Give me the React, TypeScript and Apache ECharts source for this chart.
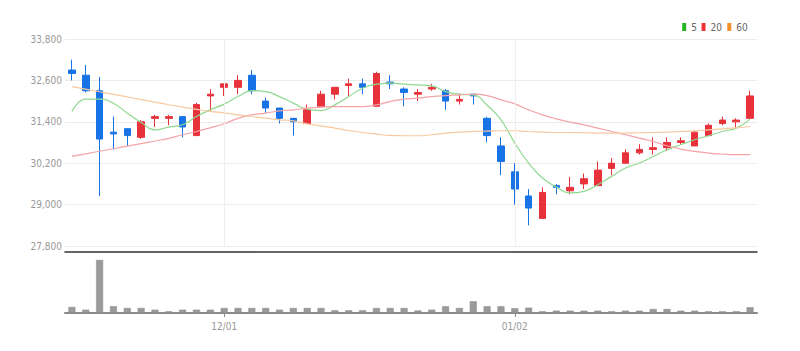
import React, { useEffect, useRef } from "react";
import * as echarts from "echarts";

const dates = [
  "11/16", "11/17", "11/18", "11/21", "11/22", "11/23", "11/24", "11/25", "11/28", "11/29", "11/30",
  "12/01", "12/02", "12/05", "12/06", "12/07", "12/08", "12/09", "12/12", "12/13", "12/14", "12/15",
  "12/16", "12/19", "12/20", "12/21", "12/22", "12/23", "12/26", "12/27", "12/28", "12/29",
  "01/02", "01/03", "01/04", "01/05", "01/06", "01/09", "01/10", "01/11", "01/12", "01/13", "01/16",
  "01/17", "01/18", "01/19", "01/20", "01/25", "01/26", "01/27",
];
const labelDates = ["12/01", "01/02"];

const opens = [
  32900, 32750, 32300, 31100, 31200, 30950, 31500, 31500, 31550, 31000,
  32150, 32400, 32400, 32750, 32000, 31800, 31500, 31350, 31850, 32200,
  32450, 32500, 31850, 32550, 32350, 32200, 32350, 32300, 32000, 32200,
  31500, 30700, 29950, 29250, 28600, 29550, 29400, 29600, 29550, 30050,
  30200, 30500, 30600, 30650, 30800, 30700, 31000, 31350, 31400, 31500,
];
const closes = [
  32800, 32300, 30900, 31050, 31000, 31400, 31550, 31550, 31250, 31900,
  32200, 32500, 32600, 32300, 31800, 31500, 31400, 31750, 32200, 32400,
  32500, 32400, 32800, 32500, 32250, 32250, 32400, 32000, 32050, 32150,
  31000, 30250, 29450, 28900, 29350, 29500, 29500, 29750, 30000, 30200,
  30500, 30600, 30650, 30800, 30850, 31100, 31300, 31450, 31450, 32150,
];
const highs = [
  33200, 33050, 32700, 31550, 31200, 31450, 31600, 31600, 31550, 31950,
  32350, 32500, 32750, 32900, 32100, 31800, 31500, 31900, 32300, 32400,
  32650, 32650, 32850, 32750, 32400, 32350, 32500, 32350, 32200, 32200,
  31550, 30950, 30200, 29450, 29500, 29600, 29800, 29900, 30250, 30350,
  30600, 30750, 30950, 30950, 30950, 31150, 31350, 31550, 31500, 32300,
];
const lows = [
  32600, 32250, 29250, 30600, 30700, 30900, 31250, 31300, 30950, 31000,
  31700, 32150, 32200, 32200, 31650, 31350, 31000, 31350, 31850, 32050,
  32150, 32200, 31850, 32350, 31850, 32000, 32300, 31750, 31900, 31900,
  30800, 29850, 29000, 28400, 28600, 29300, 29300, 29450, 29550, 29850,
  30200, 30450, 30450, 30550, 30750, 30700, 31000, 31300, 31200, 31500,
];
const ma5 = [
  31698, 32056, 32056, 31940, 31651, 31379, 31168, 31246, 31313, 31553,
  31747, 31912, 32131, 32305, 32276, 32131, 31940, 31767, 31726, 31891,
  32131, 32374, 32490, 32519, 32490, 32470, 32441, 32276, 32201, 32180,
  31880, 31458, 30784, 30205, 29771, 29511, 29338, 29384, 29578, 29818,
  30061, 30205, 30396, 30590, 30735, 30879, 30995, 31119, 31218, 31478,
];
const ma20 = [
  30397, 30472, 30547, 30619, 30694, 30769, 30844, 30922, 31024, 31119,
  31226, 31342, 31501, 31602, 31651, 31718, 31747, 31796, 31825, 31842,
  31842, 31842, 31891, 31987, 32056, 32085, 32131, 32160, 32180, 32201,
  32160, 32036, 31920, 31747, 31602, 31486, 31391, 31313, 31218, 31119,
  31024, 30928, 30830, 30706, 30610, 30541, 30494, 30466, 30446, 30446,
];
const ma60 = [
  32421, 32346, 32270, 32195, 32120, 32045, 31969, 31894, 31825, 31761,
  31703, 31660, 31602, 31553, 31507, 31458, 31429, 31342, 31284, 31218,
  31148, 31090, 31044, 31004, 30995, 30995, 31024, 31073, 31102, 31120,
  31130, 31140, 31140, 31119, 31102, 31090, 31090, 31082, 31073, 31073,
  31073, 31082, 31090, 31102, 31119, 31139, 31168, 31197, 31226, 31264,
];
const volumes = [
  60000, 33000, 527000, 67000, 50000, 50000, 33000, 17000, 33000, 33000,
  33000, 50000, 50000, 50000, 50000, 33000, 50000, 50000, 50000, 27000,
  27000, 27000, 50000, 50000, 50000, 25000, 33000, 67000, 50000, 117000,
  67000, 67000, 47000, 53000, 17000, 23000, 23000, 23000, 23000, 17000,
  23000, 23000, 40000, 40000, 23000, 23000, 17000, 17000, 17000, 57000,
];

const FONT = "'DejaVu Sans', sans-serif";
const UP = "#e8323b";
const DOWN = "#1773e6";

export default function App() {
  const ref = useRef<HTMLDivElement>(null);
  useEffect(() => {
    if (!ref.current) return;
    const chart = echarts.init(ref.current, undefined, { renderer: "svg" });
    const showLabel = (_i: number, v: string) => labelDates.includes(v);
    const kdata = dates.map((_, i) => [opens[i], closes[i], lows[i], highs[i]]);
    chart.setOption({
      animation: false,
      backgroundColor: "#ffffff",
      legend: {
        right: 46,
        top: 17,
        itemWidth: 4,
        itemHeight: 8,
        itemGap: 4,
        textStyle: { fontSize: 10, color: "#666", fontFamily: FONT },
        data: [
          { name: "5", icon: "rect", itemStyle: { color: "#27b527" } },
          { name: "20", icon: "rect", itemStyle: { color: "#ee3333" } },
          { name: "60", icon: "rect", itemStyle: { color: "#f2902e" } },
        ],
      },
      grid: [
        { left: 65, right: 43, top: 39, height: 207 },
        { left: 65, right: 43, top: 252, height: 61 },
      ],
      xAxis: [
        {
          type: "category",
          gridIndex: 0,
          data: dates,
          boundaryGap: true,
          axisLine: { show: false },
          axisTick: { show: false },
          axisLabel: { show: false },
          splitLine: { show: false },
        },
        {
          type: "category",
          gridIndex: 1,
          data: dates,
          boundaryGap: true,
          axisLine: { lineStyle: { color: "#8a8a8a", width: 2 } },
          axisTick: { show: true, interval: showLabel, alignWithLabel: true, length: 4, lineStyle: { color: "#8a8a8a" } },
          axisLabel: { interval: showLabel, color: "#999", fontSize: 10, fontFamily: FONT, margin: 8 },
          splitLine: { show: false },
        },
        {
          type: "category",
          gridIndex: 1,
          position: "top",
          data: dates,
          boundaryGap: true,
          axisLine: { lineStyle: { color: "#333", width: 1.5 } },
          axisTick: { show: false },
          axisLabel: { show: false },
        },
      ],
      yAxis: [
        {
          type: "value",
          gridIndex: 0,
          min: 27800,
          max: 33800,
          interval: 1200,
          axisLine: { show: false },
          axisTick: { show: false },
          axisLabel: {
            color: "#999",
            fontSize: 10,
            fontFamily: FONT,
            margin: 3,
            formatter: (v: number) => v.toLocaleString("en-US"),
          },
          splitLine: { lineStyle: { color: "#ebebeb" } },
        },
        {
          type: "value",
          gridIndex: 1,
          min: 0,
          max: 606000,
          show: false,
        },
      ],
      series: [
        {
          name: "grid",
          type: "line",
          xAxisIndex: 0,
          yAxisIndex: 0,
          data: [],
          z: 0,
          silent: true,
          markLine: {
            silent: true,
            symbol: "none",
            label: { show: false },
            lineStyle: { color: "#eeeeee", type: "solid", width: 1 },
            data: labelDates.map((d) => ({ xAxis: d })),
          },
        },
        {
          name: "K",
          type: "candlestick",
          xAxisIndex: 0,
          yAxisIndex: 0,
          barWidth: 7,
          z: 2,
          data: kdata,
          itemStyle: {
            color: UP,
            color0: DOWN,
            borderColor: UP,
            borderColor0: DOWN,
            borderWidth: 1,
          },
        },
        {
          name: "5",
          type: "line",
          data: ma5,
          smooth: true,
          symbol: "none",
          z: 3,
          itemStyle: { color: "#27b527" },
          lineStyle: { color: "#8fd88f", width: 1.2 },
        },
        {
          name: "20",
          type: "line",
          data: ma20,
          smooth: true,
          symbol: "none",
          z: 3,
          itemStyle: { color: "#ee3333" },
          lineStyle: { color: "#f4a3a6", width: 1.2 },
        },
        {
          name: "60",
          type: "line",
          data: ma60,
          smooth: true,
          symbol: "none",
          z: 3,
          itemStyle: { color: "#f2902e" },
          lineStyle: { color: "#f8c9a0", width: 1.2 },
        },
        {
          name: "Volume",
          type: "bar",
          xAxisIndex: 1,
          yAxisIndex: 1,
          data: volumes,
          barWidth: 7,
          itemStyle: { color: "#9a9a9a", borderColor: "#8a8a8a", borderWidth: 0.5 },
        },
      ],
    });
    return () => chart.dispose();
  }, []);
  return (
    <>
      <style>{"#root svg text { font-stretch: condensed !important; }"}</style>
      <div
        ref={ref}
        style={{ position: "fixed", left: 0, top: 0, width: 800, height: 351 }}
      />
    </>
  );
}
